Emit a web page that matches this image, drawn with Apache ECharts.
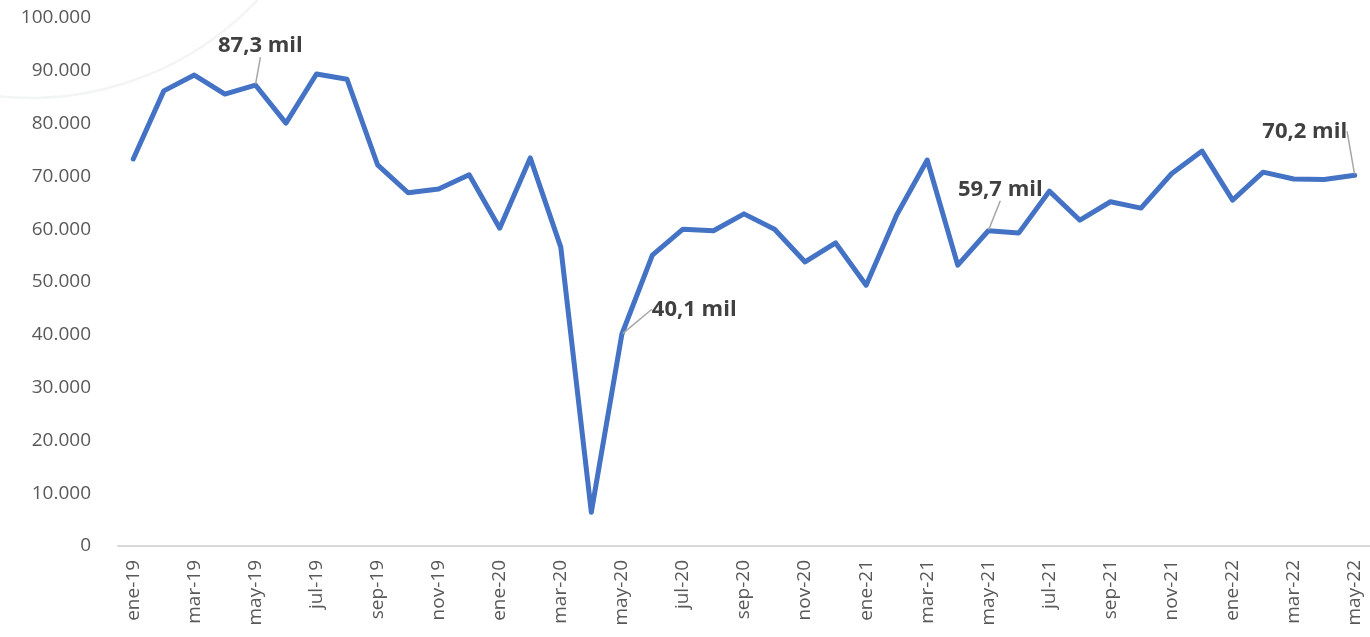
<!DOCTYPE html>
<html>
<head>
<meta charset="utf-8">
<script src="https://cdn.jsdelivr.net/npm/echarts@6/dist/echarts.min.js"></script>
<style>
  html, body { margin: 0; padding: 0; background: #fff; }
  #container { width: 1370px; height: 637px; }
</style>
</head>
<body>
<div id="container"></div>
<script>
var dom = document.getElementById("container");
var myChart = echarts.init(dom);

// months ene-19 .. may-22
var months = [
  "ene-19","feb-19","mar-19","abr-19","may-19","jun-19","jul-19","ago-19","sep-19","oct-19","nov-19","dic-19",
  "ene-20","feb-20","mar-20","abr-20","may-20","jun-20","jul-20","ago-20","sep-20","oct-20","nov-20","dic-20",
  "ene-21","feb-21","mar-21","abr-21","may-21","jun-21","jul-21","ago-21","sep-21","oct-21","nov-21","dic-21",
  "ene-22","feb-22","mar-22","abr-22","may-22"
];

// values
var values = [
  73300, 86200, 89200, 85600, 87300, 80100, 89400, 88400, 72200, 66900, 67600, 70300,
  60200, 73500, 56600, 6400, 40100, 55100, 60000, 59700, 62900, 60000, 53800, 57400,
  49400, 62700, 73100, 53200, 59700, 59300, 67200, 61700, 65200, 64000, 70500, 74800,
  65500, 70800, 69500, 69400, 70200
];

// annotated points
var labelIdx = [4, 16, 28, 40];
var labelText = ["87,3 mil", "40,1 mil", "59,7 mil", "70,2 mil"];
var labelPos = ["top", "right", "top", "top"];
var labelShift = [[5, -22], [24, -25], [12, -24], [-50, -27]];

function fmtThousands(v) {
  return String(v).replace(/\B(?=(\d{3})+(?!\d))/g, ".");
}

var seriesData = values.map(function (v, i) {
  var k = labelIdx.indexOf(i);
  if (k < 0) return v;
  return {
    value: v,
    symbol: "circle",
    symbolSize: 2,
    label: {
      show: true,
      position: labelPos[k],
      formatter: labelText[k]
    }
  };
});

var option = {
  animation: false,
  backgroundColor: "#ffffff",
  graphic: [
    {
      type: "circle",
      shape: { cx: 30, cy: -215, r: 313 },
      style: { fill: "none", stroke: "#f3f5f4", lineWidth: 2.5 },
      silent: true,
      z: -1
    }
  ],
  grid: {
    left: 118,
    right: -3,
    top: 18,
    bottom: 91,
    containLabel: false
  },
  xAxis: {
    type: "category",
    data: months,
    boundaryGap: true,
    axisLine: { lineStyle: { color: "#d9d9d9", width: 2 } },
    axisTick: { interval: 1, length: 8, lineStyle: { color: "#d9d9d9", width: 2 } },
    axisLabel: {
      interval: 1,
      rotate: 90,
      margin: 14,
      color: "#595959",
      fontFamily: "Open Sans",
      fontSize: 19
    }
  },
  yAxis: {
    type: "value",
    min: 0,
    max: 100000,
    interval: 10000,
    axisLine: { show: false },
    axisTick: { show: false },
    splitLine: { show: false },
    axisLabel: {
      margin: 27,
      color: "#595959",
      fontFamily: "Open Sans",
      fontSize: 19,
      formatter: fmtThousands
    }
  },
  series: [
    {
      type: "line",
      data: seriesData,
      symbol: "none",
      showAllSymbol: true,
      lineStyle: { color: "#4472C4", width: 5, join: "round", cap: "round" },
      itemStyle: { color: "#4472C4" },
      label: {
        color: "#404040",
        fontFamily: "Open Sans",
        fontWeight: "bold",
        fontSize: 22
      },
      labelLine: {
        show: true,
        lineStyle: { color: "#a6a6a6", width: 1.5 }
      },
      labelLayout: function (params) {
        var k = labelIdx.indexOf(params.dataIndex);
        if (k < 0) return {};
        return { dx: labelShift[k][0], dy: labelShift[k][1] };
      }
    }
  ]
};

myChart.setOption(option);
</script>
</body>
</html>
